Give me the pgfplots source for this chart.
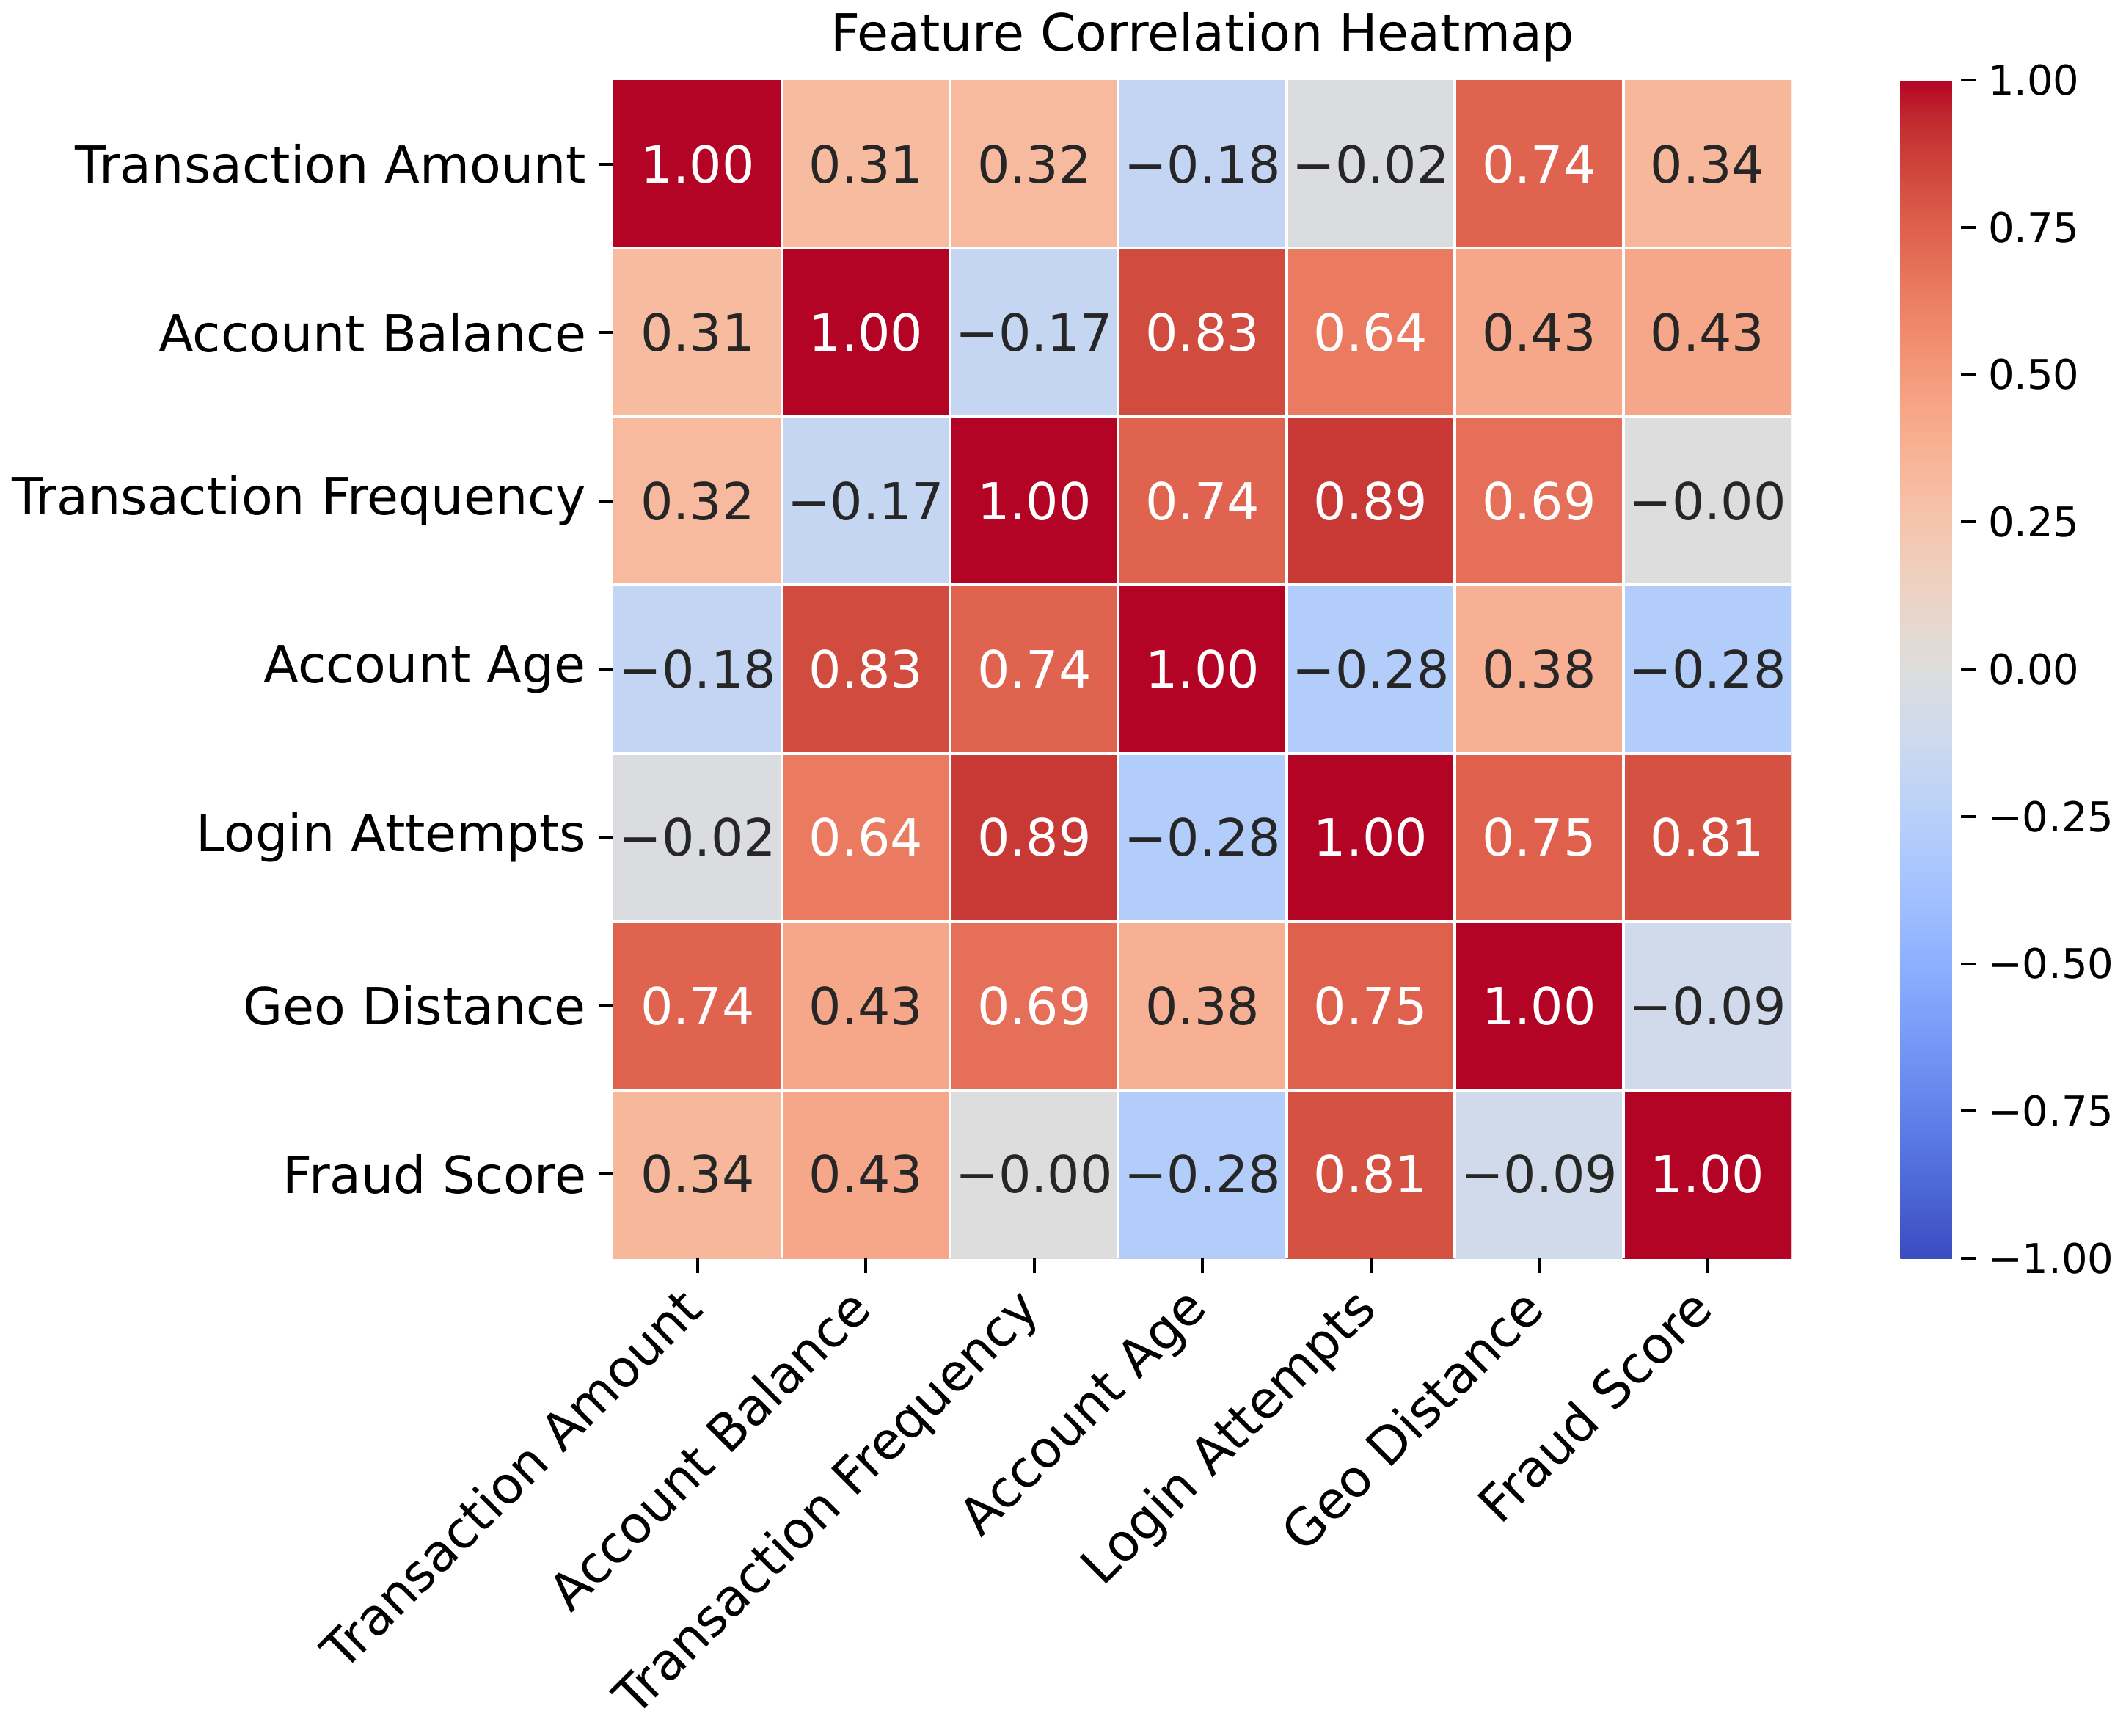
\documentclass[border=0pt]{standalone}
\usepackage{fontspec}
\setmainfont{DejaVu Sans}
\usepackage{pgfplots}
\pgfplotsset{compat=1.18}
\usepackage{pgfplotstable}

\pgfplotsset{colormap={coolwarm}{rgb255=(59,76,192) rgb255=(68,90,204) rgb255=(77,104,215) rgb255=(87,117,225) rgb255=(98,130,234) rgb255=(108,142,241) rgb255=(119,154,247) rgb255=(130,165,251) rgb255=(141,176,254) rgb255=(152,185,255) rgb255=(163,194,255) rgb255=(174,201,253) rgb255=(184,208,249) rgb255=(194,213,244) rgb255=(204,217,238) rgb255=(213,219,230) rgb255=(221,221,221) rgb255=(229,216,209) rgb255=(236,211,197) rgb255=(241,204,184) rgb255=(245,196,172) rgb255=(247,187,160) rgb255=(247,177,148) rgb255=(247,166,135) rgb255=(244,154,123) rgb255=(241,141,111) rgb255=(236,127,99) rgb255=(229,112,88) rgb255=(222,96,77) rgb255=(213,80,66) rgb255=(203,62,56) rgb255=(192,40,47) rgb255=(180,4,38)}}

\definecolor{darktext}{RGB}{38,38,38}

\pgfplotstableread{
x y v
0 0 1.00
1 0 0.31
2 0 0.32
3 0 -0.18
4 0 -0.02
5 0 0.74
6 0 0.34
0 1 0.31
1 1 1.00
2 1 -0.17
3 1 0.83
4 1 0.64
5 1 0.43
6 1 0.43
0 2 0.32
1 2 -0.17
2 2 1.00
3 2 0.74
4 2 0.89
5 2 0.69
6 2 -0.00
0 3 -0.18
1 3 0.83
2 3 0.74
3 3 1.00
4 3 -0.28
5 3 0.38
6 3 -0.28
0 4 -0.02
1 4 0.64
2 4 0.89
3 4 -0.28
4 4 1.00
5 4 0.75
6 4 0.81
0 5 0.74
1 5 0.43
2 5 0.69
3 5 0.38
4 5 0.75
5 5 1.00
6 5 -0.09
0 6 0.34
1 6 0.43
2 6 -0.00
3 6 -0.28
4 6 0.81
5 6 -0.09
6 6 1.00
}\corr

\pgfplotstableread{
x y l
0 0 1.00
5 0 0.74
1 1 1.00
3 1 0.83
4 1 0.64
2 2 1.00
3 2 0.74
4 2 0.89
5 2 0.69
1 3 0.83
2 3 0.74
3 3 1.00
1 4 0.64
2 4 0.89
4 4 1.00
5 4 0.75
6 4 0.81
0 5 0.74
2 5 0.69
4 5 0.75
5 5 1.00
4 6 0.81
6 6 1.00
}\whitelbl

\pgfplotstableread{
x y l
1 0 0.31
2 0 0.32
3 0 −0.18
4 0 −0.02
6 0 0.34
0 1 0.31
2 1 −0.17
5 1 0.43
6 1 0.43
0 2 0.32
1 2 −0.17
6 2 −0.00
0 3 −0.18
4 3 −0.28
5 3 0.38
6 3 −0.28
0 4 −0.02
3 4 −0.28
1 5 0.43
3 5 0.38
6 5 −0.09
0 6 0.34
1 6 0.43
2 6 −0.00
3 6 −0.28
5 6 −0.09
}\darklbl

\newcommand{\fs}{\fontsize{14.1}{16.9}\selectfont}
\newcommand{\fc}{\fontsize{11.3}{13.5}\selectfont}

\begin{document}
\begin{tikzpicture}
\begin{axis}[
  scale only axis, width=324.3pt, height=324.3pt,
  xmin=-0.5, xmax=6.5, ymin=-0.5, ymax=6.5,
  y dir=reverse,
  axis on top,
  axis line style={draw=none},
  xtick={0,1,2,3,4,5,6}, ytick={0,1,2,3,4,5,6},
  xticklabels={Transaction Amount,Account Balance,Transaction Frequency,Account Age,Login Attempts,Geo Distance,Fraud Score},
  yticklabels={Transaction Amount,Account Balance,Transaction Frequency,Account Age,Login Attempts,Geo Distance,Fraud Score},
  xtick pos=left, ytick pos=left,
  tick align=outside, major tick length=4pt,
  tick style={black, line width=0.8pt},
  ticklabel style={font=\fs},
  xticklabel style={xshift=-5.5pt, rotate=45, anchor=north east, inner sep=2pt},
  extra x ticks={0.5,1.5,2.5,3.5,4.5,5.5},
  extra y ticks={0.5,1.5,2.5,3.5,4.5,5.5},
  extra x tick labels={}, extra y tick labels={},
  extra tick style={grid=major, major tick length=0pt, major grid style={white, line width=0.8pt}},
  colormap name=coolwarm,
  point meta min=-1, point meta max=1,
  colorbar,
  colorbar style={
    at={(parent axis.north east)}, anchor=north west, xshift=21.4pt,
    width=16.6pt,
    axis line style={draw=none},
    ytick={-1,-0.75,-0.5,-0.25,0,0.25,0.5,0.75,1},
    yticklabels={−1.00,−0.75,−0.50,−0.25,0.00,0.25,0.50,0.75,1.00},
    yticklabel style={font=\fc},
    ytick pos=right, yticklabel pos=right,
    tick align=outside, major tick length=4pt,
    tick style={black, line width=0.8pt},
  },
  title={Feature Correlation Heatmap},
  title style={font=\fs, yshift=-4.5pt},
]
\addplot[matrix plot*, mesh/cols=7, point meta=explicit] table[x=x, y=y, meta=v] {\corr};
\addplot[draw=none, mark=none, nodes near coords, point meta=explicit symbolic,
  every node near coord/.style={anchor=center, font=\fs, text=white}] table[x=x, y=y, meta=l] {\whitelbl};
\addplot[draw=none, mark=none, nodes near coords, point meta=explicit symbolic,
  every node near coord/.style={anchor=center, font=\fs, text=darktext}] table[x=x, y=y, meta=l] {\darklbl};
\end{axis}
\end{tikzpicture}
\end{document}
